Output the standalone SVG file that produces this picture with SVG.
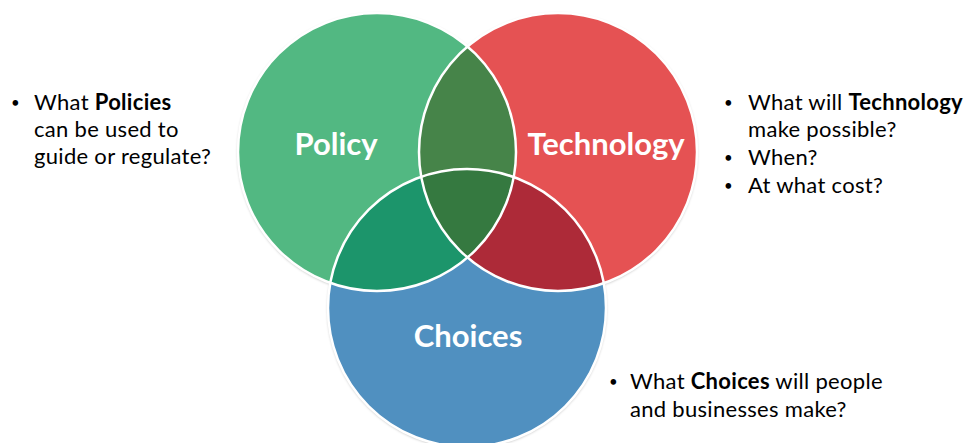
<svg xmlns="http://www.w3.org/2000/svg" width="973" height="443" viewBox="0 0 973 443">
<style>
.lbl{font-family:Lato,"Open Sans","Liberation Sans",sans-serif;font-weight:bold;fill:#fff;font-size:31px;text-anchor:middle}
.t{font-family:Lato,"Open Sans","Liberation Sans",sans-serif;font-size:22px;letter-spacing:0.3px;fill:#000}
.bl{font-family:Lato,"Open Sans","Liberation Sans",sans-serif;font-size:15px;fill:#000}
.b{font-weight:bold}
.ring{fill:none;stroke:#fff;stroke-width:2.5}
</style>
<defs>
<clipPath id="cP"><circle cx="377" cy="152" r="139"/></clipPath>
<clipPath id="cT"><circle cx="558" cy="152" r="139"/></clipPath>
<clipPath id="cC"><circle cx="467" cy="308" r="139"/></clipPath>
<filter id="sh" x="-10%" y="-10%" width="120%" height="120%"><feDropShadow dx="0" dy="1" stdDeviation="1.5" flood-color="#000" flood-opacity="0.35"/></filter>
</defs>
<g id="shadows" filter="url(#sh)">
<circle cx="377" cy="152" r="139" fill="#52b882"/>
<circle cx="558" cy="152" r="139" fill="#e55253"/>
<circle cx="467" cy="308" r="139" fill="#5090c0"/>
</g>
<g id="policy">
<circle cx="377" cy="152" r="139" fill="#52b882"/>
</g>
<g id="technology">
<circle cx="558" cy="152" r="139" fill="#e55253"/>
</g>
<g id="choices">
<circle cx="467" cy="308" r="139" fill="#5090c0"/>
</g>
<g id="overlaps">
<g clip-path="url(#cP)"><circle cx="558" cy="152" r="139" fill="#468449"/><circle cx="467" cy="308" r="139" fill="#1c956b"/></g>
<g clip-path="url(#cT)"><circle cx="467" cy="308" r="139" fill="#ad2a38"/></g>
<g clip-path="url(#cP)"><g clip-path="url(#cT)"><circle cx="467" cy="308" r="139" fill="#357940"/></g></g>
</g>
<g id="rings">
<circle class="ring" cx="377" cy="152" r="139"/>
<circle class="ring" cx="558" cy="152" r="139"/>
<circle class="ring" cx="467" cy="308" r="139"/>
</g>
<g id="labels">
<text class="lbl" x="336" y="155">Policy</text>
<text class="lbl" x="606" y="155">Technology</text>
<text class="lbl" x="468" y="347">Choices</text>
</g>
<g id="policy-notes">
<text class="bl" x="11" y="108">•</text>
<text class="t" x="34" y="110">What <tspan class="b">Policies</tspan></text>
<text class="t" x="34" y="137">can be used to</text>
<text class="t" x="34" y="164">guide or regulate?</text>
</g>
<g id="technology-notes">
<text class="bl" x="724" y="108">•</text>
<text class="t" x="748" y="110">What will <tspan class="b">Technology</tspan></text>
<text class="t" x="748" y="137">make possible?</text>
<text class="bl" x="724" y="163">•</text>
<text class="t" x="748" y="165">When?</text>
<text class="bl" x="724" y="191">•</text>
<text class="t" x="748" y="193">At what cost?</text>
</g>
<g id="choices-notes">
<text class="bl" x="609" y="387">•</text>
<text class="t" x="630" y="389">What <tspan class="b">Choices</tspan> will people</text>
<text class="t" x="630" y="417">and businesses make?</text>
</g>
</svg>
